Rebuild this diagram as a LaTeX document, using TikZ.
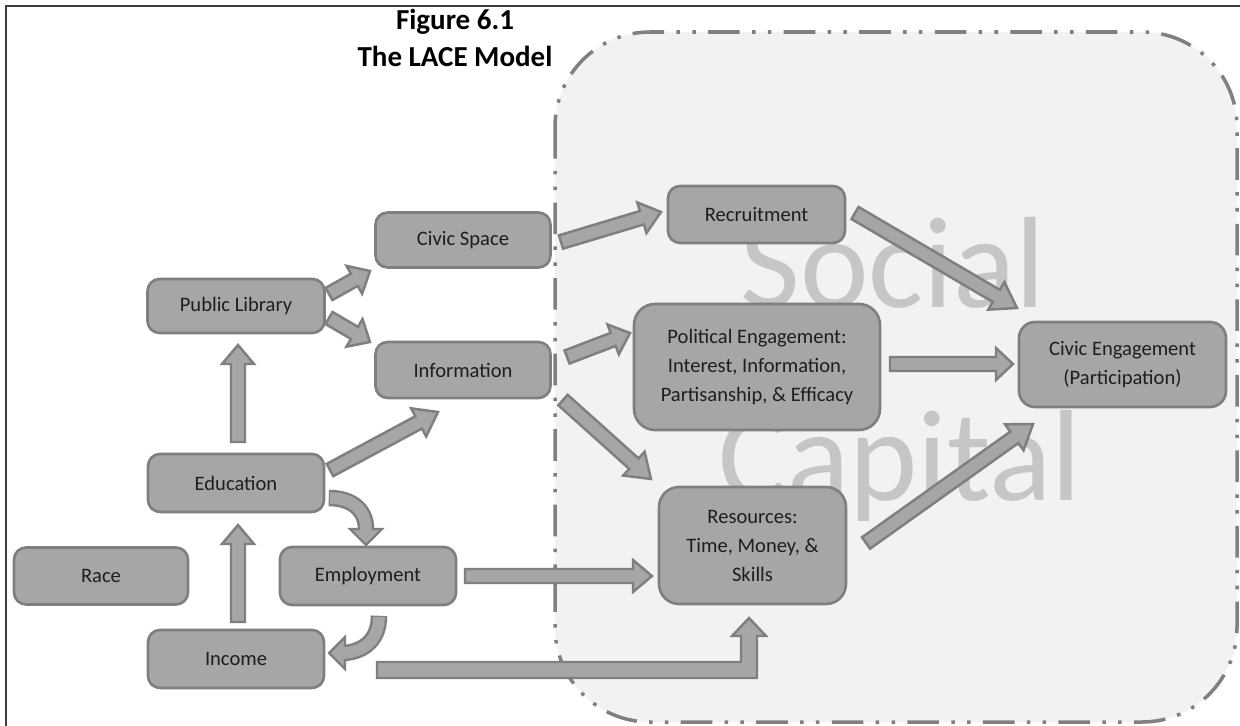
\documentclass[tikz,border=0pt]{standalone}
\usepackage{fontspec}
\setmainfont{Carlito}
\usetikzlibrary{calc}
\definecolor{boxc}{HTML}{A6A6A6}
\definecolor{bordc}{HTML}{7F7F7F}
\definecolor{txtc}{HTML}{1E1E1E}
\definecolor{regc}{HTML}{F2F2F2}
\definecolor{dashc}{HTML}{808080}
\definecolor{scc}{HTML}{C6C6C6}
\definecolor{framec}{HTML}{3C3C3C}
% straight block arrow: [head length]{start}{tip}
\newcommand\barrow[3][0.38cm]{%
  \coordinate (bh) at ($(#3)!#1!(#2)$);
  \draw[blockarr] ($(#2)!0.14cm!90:(#3)$) -- ($(bh)!0.14cm!-90:(#2)$)
    -- ($(bh)!0.32cm!-90:(#2)$) -- (#3) -- ($(bh)!0.32cm!90:(#2)$)
    -- ($(bh)!0.14cm!90:(#2)$) -- ($(#2)!0.14cm!-90:(#3)$) -- cycle;}
\begin{document}
\begin{tikzpicture}[x=0.02cm,y=-0.02cm,
  box/.style={draw=bordc, fill=boxc, line width=1.5pt, rounded corners=0.24cm,
    text=txtc, align=center, inner sep=0pt,
    font=\fontsize{11.7}{16.5}\selectfont},
  blockarr/.style={draw=bordc, fill=boxc, line width=1.4pt, line join=miter},
  arrout/.style={draw=bordc, line width=9.4pt},
  arrin/.style={draw=boxc, line width=6.6pt},
  sc/.style={text=scc, font=\fontsize{74}{74}\selectfont, inner sep=0pt, anchor=base}]
\useasboundingbox (0,0) rectangle (1240,726);
\fill[white] (0,0) rectangle (1240,726);
\draw[framec, line width=1.4pt] (1240,6) -- (6,6) -- (6,726);
% social capital region
\draw[dashc, fill=regc, line width=2pt, rounded corners=1.9cm,
  dash pattern=on 18pt off 7pt on 2pt off 7pt on 2pt off 7pt]
  (555,32) rectangle (1237,722);
\node[sc] (soc) at (893,307) {Social};
\node[sc] (cap) at (900,500) {Capital};
% title
\node[font=\bfseries\fontsize{16.5}{21}\selectfont, align=center, text=black, inner sep=0pt]
  (title) at (455,38) {Figure 6.1\\The LACE Model};
% boxes
\node[box, minimum width=3.48cm, minimum height=1.14cm] (race) at (101,576) {Race};
\node[box, minimum width=3.54cm, minimum height=1.08cm] (pl) at (236,306) {Public Library};
\node[box, minimum width=3.52cm, minimum height=1.16cm] (edu) at (236,483) {Education};
\node[box, minimum width=3.52cm, minimum height=1.16cm] (emp) at (368,576) {Employment};
\node[box, minimum width=3.52cm, minimum height=1.16cm] (inc) at (236,659) {Income};
\node[box, minimum width=3.50cm, minimum height=1.10cm] (cs) at (463,240) {Civic Space};
\node[box, minimum width=3.50cm, minimum height=1.12cm] (info) at (463,370) {Information};
\node[box, minimum width=3.54cm, minimum height=1.14cm] (rec) at (756.5,214.5) {Recruitment};
\node[box, minimum width=4.92cm, minimum height=2.52cm, rounded corners=0.42cm] (pol) at (757,367)
  {Political Engagement:\\Interest, Information,\\Partisanship, \& Efficacy};
\node[box, minimum width=3.74cm, minimum height=2.34cm, rounded corners=0.4cm] (res) at (752.5,545.5)
  {Resources:\\Time, Money, \&\\Skills};
\node[box, minimum width=4.14cm, minimum height=1.70cm, rounded corners=0.32cm] (ce) at (1122.5,364.5)
  {Civic Engagement\\(Participation)};
% straight arrows
\coordinate (a1s) at ($(pl)+(93,-12)$);   \coordinate (a1t) at ($(cs)+(-93,31)$);
\coordinate (a2s) at ($(pl)+(93,12)$);    \coordinate (a2t) at ($(info)+(-93,-28)$);
\coordinate (a3s) at ($(edu)+(2,-41)$);   \coordinate (a3t) at ($(pl)+(2,39)$);
\coordinate (a4s) at ($(edu)+(94,-13)$);  \coordinate (a4t) at ($(info)+(-25,42)$);
\coordinate (a6s) at ($(inc)+(2,-37)$);   \coordinate (a6t) at ($(edu)+(2,42)$);
\coordinate (a8s) at ($(emp)+(97,0)$);    \coordinate (a8t) at ($(res)+(-100.5,30.5)$);
\coordinate (a10s) at ($(cs)+(98,2)$);    \coordinate (a10t) at ($(rec)+(-95.5,-2.5)$);
\coordinate (a11s) at ($(info)+(104,-13)$); \coordinate (a11t) at ($(pol)+(-127,-34)$);
\coordinate (a12s) at ($(info)+(100,30)$);  \coordinate (a12t) at ($(res)+(-101.5,-66.5)$);
\coordinate (a13s) at ($(rec)+(98.5,-1.5)$); \coordinate (a13t) at ($(ce)+(-105.5,-56.5)$);
\coordinate (a14s) at ($(pol)+(133,-3)$);   \coordinate (a14t) at ($(ce)+(-109.5,-0.5)$);
\coordinate (a15s) at ($(res)+(113.5,-2.5)$); \coordinate (a15t) at ($(ce)+(-89.5,59.5)$);
\barrow[0.36cm]{a1s}{a1t}
\barrow[0.36cm]{a2s}{a2t}
\barrow{a3s}{a3t}
\barrow[0.44cm]{a4s}{a4t}
\barrow{a6s}{a6t}
\barrow{a8s}{a8t}
\barrow[0.40cm]{a10s}{a10t}
\barrow[0.36cm]{a11s}{a11t}
\barrow[0.46cm]{a12s}{a12t}
\barrow[0.48cm]{a13s}{a13t}
\barrow[0.34cm]{a14s}{a14t}
\barrow[0.46cm]{a15s}{a15t}
% elbow arrow: Income -> Resources
\coordinate (e9s) at ($(inc)+(141,11)$); \coordinate (e9t) at ($(res)+(-3.5,72.5)$);
\draw[blockarr] ($(e9s)+(0,-8)$) -- ($(e9t|-e9s)+(-8,-8)$) -- ($(e9t)+(-8,18)$)
  -- ($(e9t)+(-17,18)$) -- (e9t) -- ($(e9t)+(17,18)$) -- ($(e9t)+(8,18)$)
  -- ($(e9t|-e9s)+(8,8)$) -- ($(e9s)+(0,8)$) -- cycle;
% curved arrow: Education -> Employment
\coordinate (s5) at ($(edu)+(94,15)$); \coordinate (t5) at ($(emp)+(-2,-31)$);
\coordinate (h5) at ($(t5)+(0,-16)$);
\draw[arrout, shorten <=-0.7pt] (s5) .. controls ($(s5)+(22,0)$) and ($(h5)+(0,-19)$) .. (h5);
\draw[blockarr] ($(h5)+(-16,0)$) -- (t5) -- ($(h5)+(16,0)$) -- cycle;
\draw[arrin] (s5) .. controls ($(s5)+(22,0)$) and ($(h5)+(0,-19)$) .. (h5) -- ($(h5)+(0,3)$);
% curved arrow: Employment -> Income
\coordinate (s7) at ($(emp)+(11,41)$); \coordinate (t7) at ($(inc)+(93,-6)$);
\coordinate (h7) at ($(t7)+(16,0)$);
\draw[arrout, shorten <=-0.7pt] (s7) .. controls ($(s7)+(0,22)$) and ($(h7)+(20,-2)$) .. (h7);
\draw[blockarr] ($(h7)+(0,-16)$) -- (t7) -- ($(h7)+(0,16)$) -- cycle;
\draw[arrin] (s7) .. controls ($(s7)+(0,22)$) and ($(h7)+(20,-2)$) .. (h7) -- ($(h7)+(-3,0)$);
\end{tikzpicture}
\end{document}
